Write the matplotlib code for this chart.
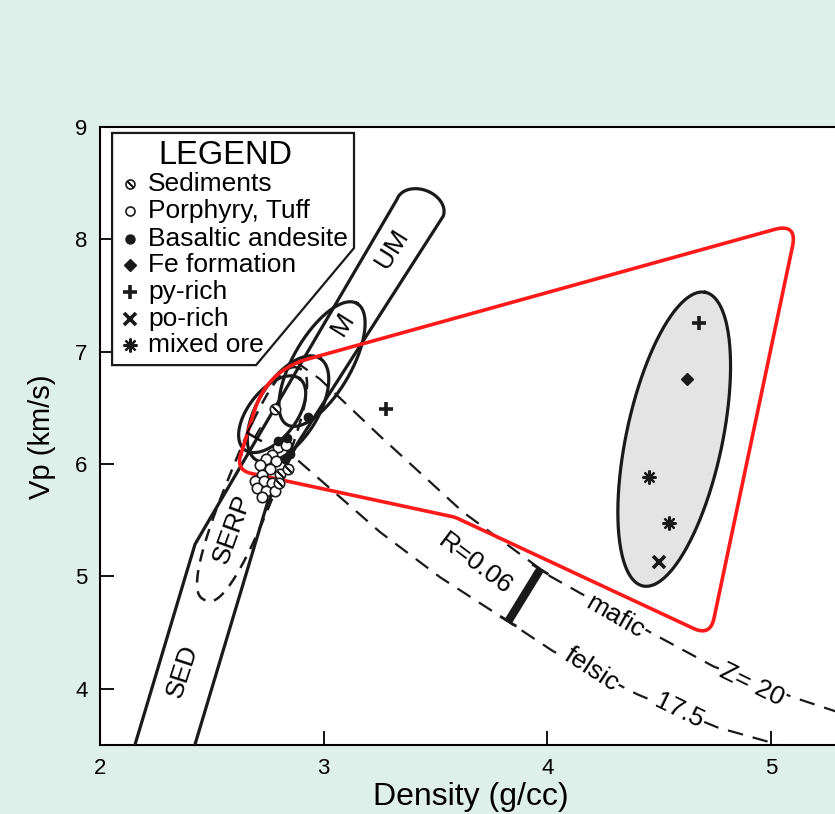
import numpy as np
import matplotlib
matplotlib.use("Agg")
import matplotlib.pyplot as plt
from matplotlib.patches import Polygon

plt.rcParams['font.family'] = ['Liberation Sans', 'DejaVu Sans']

BG = '#dff0ea'
RED = '#ff1a1a'

# ---------------- axis ----------------
x_ticks = [2, 3, 4, 5]
y_ticks = [4, 5, 6, 7, 8, 9]
x_label = 'Density (g/cc)'
y_label = 'Vp (km/s)'

# ---------------- samples ----------------
sed_x = [2.783, 2.805, 2.841, 2.801]
sed_y = [6.489, 5.910, 5.955, 5.830]
por_x = [2.796, 2.832, 2.770, 2.743, 2.787, 2.716, 2.761, 2.725, 2.694, 2.734,
         2.770, 2.702, 2.743, 2.783, 2.725]
por_y = [6.150, 6.168, 6.079, 6.044, 6.026, 5.990, 5.955, 5.901, 5.848, 5.848,
         5.830, 5.785, 5.759, 5.759, 5.705]
bas_x = [2.931, 2.796, 2.837, 2.850, 2.828]
bas_y = [6.418, 6.204, 6.231, 6.088, 6.044]
fe_x = [4.626]
fe_y = [6.756]
py_x = [4.680, 3.280]
py_y = [7.255, 6.489]
po_x = [4.501]
po_y = [5.126]
mix_x = [4.456, 4.546]
mix_y = [5.883, 5.474]

legend_title = 'LEGEND'
legend_labels = ['Sediments', 'Porphyry, Tuff', 'Basaltic andesite', 'Fe formation',
                 'py-rich', 'po-rich', 'mixed ore']

# ---------------- fields ----------------
band_left_x = [2.157, 2.425, 3.329]
band_left_y = [3.506, 5.287, 8.359]
band_right_x = [3.535, 2.881, 2.747, 2.425]
band_right_y = [8.207, 6.177, 5.643, 3.506]
um_cap_height = 0.16

# (center density, center Vp, semi-major [Vp units], semi-minor, angle deg, exponent)
m_field = (2.993, 6.890, 0.623, 0.258, 60, 2.0)
f1_field = (2.770, 6.444, 0.400, 0.214, 52, 2.0)
f2_field = (2.841, 6.489, 0.534, 0.267, 58, 2.0)
serp_field = (2.680, 5.821, 1.113, 0.214, 68, 2.6)
ore_field = (4.568, 6.222, 1.336, 0.427, 78, 2.0)

red_x = [2.608, 3.588, 4.729, 5.119, 2.747]
red_y = [5.946, 5.527, 4.468, 8.145, 6.834]
red_r = [0.13, 0.25, 0.13, 0.13, 0.70]

mafic_x = [2.872, 2.984, 3.253, 3.624, 4.013, 4.461, 4.743, 5.101, 5.289]
mafic_y = [6.916, 6.756, 6.248, 5.572, 5.002, 4.503, 4.200, 3.924, 3.800]
felsic_x = [2.828, 2.864, 3.253, 3.521, 3.790, 4.027, 4.403, 4.761, 5.029]
felsic_y = [6.222, 6.070, 5.394, 4.993, 4.646, 4.334, 3.951, 3.657, 3.506]

r_bar_x = [3.969, 3.826]
r_bar_y = [5.064, 4.601]

# ---------------- figure ----------------
W, H = 835, 814
fig = plt.figure(figsize=(W / 100, H / 100), dpi=100)
fig.patch.set_facecolor(BG)
ax_l, ax_b, ax_w, ax_h = 100, 69, 735, 618
ax = fig.add_axes([ax_l / W, ax_b / H, ax_w / W, ax_h / H])
ax.set_facecolor('white')
x0, x1 = 2.0, 2.0 + ax_w / 223.6
y0, y1 = 3.5, 9.0
ax.set_xlim(x0, x1)
ax.set_ylim(y0, y1)
K = (ax_w / (x1 - x0)) / (ax_h / (y1 - y0))

for s in ['left', 'bottom', 'top']:
    ax.spines[s].set_linewidth(1.5)
ax.spines['right'].set_visible(False)
ax.set_xticks(x_ticks)
ax.set_yticks(y_ticks)
ax.tick_params(direction='in', length=10, width=1.3, labelsize=16, pad=9)
ax.text(0.505, -0.084, x_label, transform=ax.transAxes, ha='center', va='center', fontsize=23)
ax.text(-0.079, 0.498, y_label, transform=ax.transAxes, ha='center', va='center',
        rotation=90, fontsize=21)

LW = 2.3


def ell(field, n=400):
    cx, cy, a, b, ang, ex = field
    t = np.linspace(0, 2 * np.pi, n)
    c, s = np.cos(t), np.sin(t)
    ex_ = a * np.sign(c) * np.abs(c) ** (2 / ex)
    ey_ = b * np.sign(s) * np.abs(s) ** (2 / ex)
    th = np.deg2rad(ang)
    X = ex_ * np.cos(th) - ey_ * np.sin(th)
    Y = ex_ * np.sin(th) + ey_ * np.cos(th)
    return cx + X / K, cy + Y


def rounded_poly(xs, ys, rs, nseg=20):
    P = np.column_stack([np.array(xs) * K, np.array(ys)])
    n = len(P)
    out = []
    for i in range(n):
        p, a, b = P[i], P[i - 1], P[(i + 1) % n]
        da, db = np.linalg.norm(a - p), np.linalg.norm(b - p)
        u1, u2 = (a - p) / da, (b - p) / db
        th = np.arccos(np.clip(np.dot(u1, u2), -1, 1))
        t = min(rs[i] / np.tan(th / 2), 0.45 * da, 0.45 * db)
        q1, q2 = p + u1 * t, p + u2 * t
        s = np.linspace(0, 1, nseg)[:, None]
        out.append((1 - s) ** 2 * q1 + 2 * (1 - s) * s * p + s ** 2 * q2)
    out = np.vstack(out + [out[0][:1]])
    return out[:, 0] / K, out[:, 1]


# ore field (grey)
gx, gy = ell(ore_field)
ax.fill(gx, gy, color='#e4e4e4', zorder=2)
ax.plot(gx, gy, color='#1a1a1a', lw=LW, zorder=3)

# main band with UM cap
L = np.array([band_left_x[-1] * K, band_left_y[-1]])
R = np.array([band_right_x[0] * K, band_right_y[0]])
Mid = (L + R) / 2
ch = R - L
half = np.linalg.norm(ch) / 2
e1 = ch / np.linalg.norm(ch)
e2 = np.array([-e1[1], e1[0]])
if e2[1] < 0:
    e2 = -e2
tt = np.linspace(np.pi, 0, 60)
cap = Mid[None, :] + half * np.cos(tt)[:, None] * e1[None, :] + um_cap_height * np.sin(tt)[:, None] * e2[None, :]
bx = list(band_left_x) + list(cap[:, 0] / K) + list(band_right_x)
by = list(band_left_y) + list(cap[:, 1]) + list(band_right_y)
ax.plot(bx, by, color='#1a1a1a', lw=LW, zorder=3, solid_joinstyle='round')

for fld in (m_field, f1_field, f2_field):
    ex_, ey_ = ell(fld)
    ax.plot(ex_, ey_, color='#1a1a1a', lw=LW, zorder=3)
sx_, sy_ = ell(serp_field)
ax.plot(sx_, sy_, color='#1a1a1a', lw=1.8, ls=(0, (5, 3.5)), zorder=3)

# dashed trend lines
ax.plot(mafic_x, mafic_y, color='#1a1a1a', lw=1.6, ls=(0, (7, 4.5)), zorder=3)
ax.plot(felsic_x, felsic_y, color='#1a1a1a', lw=1.6, ls=(0, (7, 4.5)), zorder=3)

# R bar
ax.plot(r_bar_x, r_bar_y, color='#1a1a1a', lw=6, solid_capstyle='butt', zorder=4)
bv = np.array([(r_bar_x[1] - r_bar_x[0]) * K, r_bar_y[1] - r_bar_y[0]])
bv = bv / np.linalg.norm(bv)
pv = np.array([-bv[1], bv[0]]) * 0.085
for bxp, byp in zip(r_bar_x, r_bar_y):
    ax.plot([bxp - pv[0] / K, bxp + pv[0] / K], [byp - pv[1], byp + pv[1]],
            color='#1a1a1a', lw=2, solid_capstyle='butt', zorder=4)

# red polygon
rx, ry = rounded_poly(red_x, red_y, red_r)
ax.plot(rx, ry, color=RED, lw=2.6, zorder=5, solid_joinstyle='round')

# samples
ax.plot(por_x, por_y, 'o', ms=7.5, mfc='white', mec='#1a1a1a', mew=1.2, zorder=6)
ax.plot(bas_x, bas_y, 'o', ms=6, mfc='#1a1a1a', mec='#1a1a1a', zorder=6)
ax.plot(sed_x, sed_y, 'o', ms=7.5, mfc='white', mec='#1a1a1a', mew=1.2, zorder=6)
ax.plot(sed_x, sed_y, marker=(2, 2, 45), ls='none', ms=6, mec='#1a1a1a', mew=1.2, zorder=7)
ax.plot(fe_x, fe_y, 'D', ms=6.5, color='#1a1a1a', zorder=6)
ax.plot(py_x, py_y, '+', ms=10, mew=2.6, color='#1a1a1a', zorder=6)
ax.plot(po_x, po_y, 'x', ms=8, mew=2.6, color='#1a1a1a', zorder=6)
ax.plot(mix_x, mix_y, marker=(8, 2, 0), ls='none', ms=10, mew=1.6, color='#1a1a1a', zorder=6)

# legend box
box = Polygon([(2.054, 8.947), (3.136, 8.947), (3.136, 7.923), (2.698, 6.881), (2.054, 6.881)],
              closed=True, facecolor='white', edgecolor='#1a1a1a', lw=1.6, zorder=8)
ax.add_patch(box)
ax.text(2.559, 8.745, legend_title, fontsize=23.5, ha='center', va='center', zorder=9)
ly = [8.492, 8.252, 8.003, 7.771, 7.531, 7.290, 7.059]
mx = 2.134
tx = 2.215
kw = dict(zorder=9, color='#1a1a1a', ls='none')
ax.plot([mx], [ly[0]], 'o', ms=6.5, mfc='white', mec='#1a1a1a', mew=1.2, **kw)
ax.plot([mx], [ly[0]], marker=(2, 2, 45), ms=5.5, mew=1.2, **kw)
ax.plot([mx], [ly[1]], 'o', ms=6.5, mfc='white', mec='#1a1a1a', mew=1.2, **kw)
ax.plot([mx], [ly[2]], 'o', ms=6.5, **kw)
ax.plot([mx], [ly[3]], 'D', ms=6, **kw)
ax.plot([mx], [ly[4]], '+', ms=10, mew=2.6, **kw)
ax.plot([mx], [ly[5]], 'x', ms=8, mew=2.6, **kw)
ax.plot([mx], [ly[6]], marker=(8, 2, 0), ms=10, mew=1.6, **kw)
for yy, lab in zip(ly, legend_labels):
    ax.text(tx, yy, lab, fontsize=19, ha='left', va='center', zorder=9)

# field labels
lab_kw = dict(fontsize=19, ha='center', va='center', zorder=7, rotation_mode='anchor')
ax.text(3.306, 7.914, 'UM', rotation=58, **lab_kw)
ax.text(3.087, 7.246, 'M', rotation=58, **lab_kw)
ax.text(2.707, 6.293, 'F', rotation=60, **lab_kw)
ax.text(2.591, 5.420, 'SERP', rotation=70, **lab_kw)
ax.text(2.371, 4.156, 'SED', rotation=72, **lab_kw)
ax.text(3.678, 5.109, 'R=0.06', rotation=-37, **lab_kw)
ax.text(4.304, 4.645, 'mafic', rotation=-30, bbox=dict(fc='white', ec='none', pad=1), **lab_kw)
ax.text(4.917, 4.040, 'Z= 20', rotation=-26, bbox=dict(fc='white', ec='none', pad=1), **lab_kw)
ax.text(4.197, 4.174, 'felsic', rotation=-33, bbox=dict(fc='white', ec='none', pad=1), **lab_kw)
ax.text(4.591, 3.800, '17.5', rotation=-26, bbox=dict(fc='white', ec='none', pad=1), **lab_kw)

fig.savefig('out.png', dpi=100, facecolor=BG)
